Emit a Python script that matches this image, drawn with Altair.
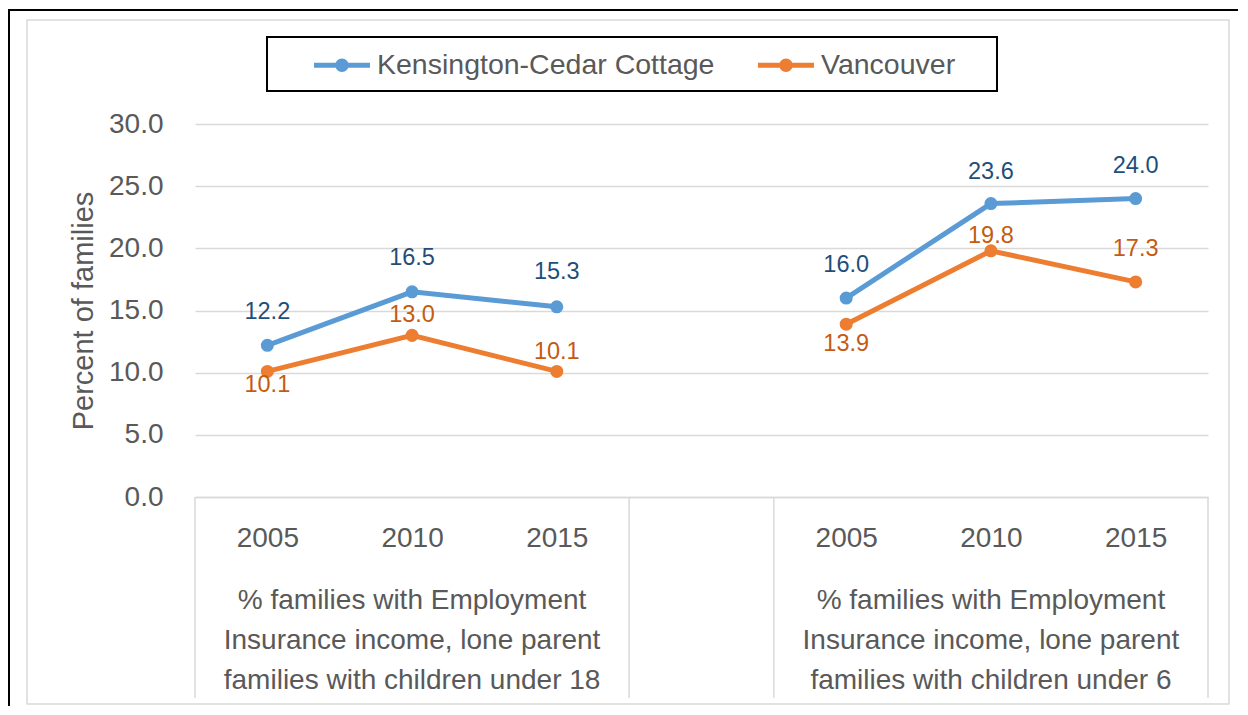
import altair as alt
import pandas as pd

FONT = "Liberation Sans"
TXT = "#595959"
GRID = "#d9d9d9"

# ---- data ----
years = ["2005", "2010", "2015"]
groups = [
    "% families with Employment\nInsurance income, lone parent\nfamilies with children under 18",
    "% families with Employment\nInsurance income, lone parent\nfamilies with children under 6",
]
series = ["Kensington-Cedar Cottage", "Vancouver"]
kcc = [12.2, 16.5, 15.3, 16.0, 23.6, 24.0]
van = [10.1, 13.0, 10.1, 13.9, 19.8, 17.3]
y_ticks = [0, 5, 10, 15, 20, 25, 30]

# label placement (pixels, negative = above the point)
kcc_label_dy = [-33, -34, -35, -33, -32, -33]
van_label_dy = [14, -20, -19, 20, -15, -33]

line_colors = ["#5b9bd5", "#ed7d31"]
label_colors = ["#1f4e79", "#c55a11"]

# ---- tables ----
n = len(years)
nslots = 2 * n + 1
W, H = 1013, 373

rows = []
for s_i, (name, vals, dys) in enumerate(
    [(series[0], kcc, kcc_label_dy), (series[1], van, van_label_dy)]
):
    for g in range(2):
        for i in range(n):
            k = g * n + i
            rows.append(
                {
                    "series": name,
                    "group": g,
                    "x": g * (n + 1) + i + 0.5,
                    "value": vals[k],
                    "dy": dys[k],
                }
            )
df = pd.DataFrame(rows)

sep_df = pd.DataFrame({"x": [0, n, n + 1, nslots]})
grp_df = pd.DataFrame({"x": [n / 2, n + 1 + n / 2], "label": groups})
one = pd.DataFrame({"a": [0]})

xscale = alt.Scale(domain=[0, nslots], nice=False, zero=False)
yscale = alt.Scale(domain=[0, 30], nice=False)

label_expr = "[" + ",".join(f"'{y}'" for y in years) + f"][floor(datum.value) % {n + 1}]"
x_axis = alt.Axis(
    values=[g * (n + 1) + i + 0.5 for g in range(2) for i in range(n)],
    labelExpr=label_expr,
    grid=False,
    ticks=False,
    domain=True,
    domainColor=GRID,
    domainWidth=1.5,
    labelFont=FONT,
    labelFontSize=28,
    labelColor=TXT,
    labelPadding=27,
    title=None,
)
y_axis = alt.Axis(
    values=y_ticks,
    format=".1f",
    grid=True,
    gridColor=GRID,
    gridWidth=1.5,
    domain=False,
    ticks=False,
    labelFont=FONT,
    labelFontSize=28,
    labelColor=TXT,
    labelPadding=32,
    title="Percent of families",
    titleFont=FONT,
    titleFontSize=29,
    titleFontWeight="normal",
    titleColor=TXT,
    titlePadding=10,
)

SYMBOL = (
    "M-1,-0.09L1,-0.09L1,0.09L-1,0.09Z"
    "M-0.24,0A0.24,0.24 0 1,1 0.24,0A0.24,0.24 0 1,1 -0.24,0Z"
)

legend = alt.Legend(
    orient="none",
    legendX=119,
    legendY=-87,
    direction="horizontal",
    title=None,
    symbolType=SYMBOL,
    symbolSize=3136,
    symbolStrokeWidth=0,
    labelFont=FONT,
    labelFontSize=28.5,
    labelColor=TXT,
    labelOffset=7,
    labelLimit=600,
    columnPadding=43,
    padding=0,
)

X = alt.X("x:Q", scale=xscale, axis=x_axis)
Y = alt.Y("value:Q", scale=yscale, axis=y_axis)

# decorations
outer = alt.Chart(one).mark_rect(fill="transparent", stroke="black", strokeWidth=2).encode(
    x=alt.value(-186), x2=alt.value(1070), y=alt.value(-114), y2=alt.value(640)
)
inner = alt.Chart(one).mark_rect(fill="transparent", stroke=GRID, strokeWidth=1.5).encode(
    x=alt.value(-168), x2=alt.value(1034), y=alt.value(-104), y2=alt.value(580)
)
legend_box = alt.Chart(one).mark_rect(fill="transparent", stroke="black", strokeWidth=2).encode(
    x=alt.value(72), x2=alt.value(802), y=alt.value(-87), y2=alt.value(-33)
)

seps = alt.Chart(sep_df).mark_rule(color=GRID, strokeWidth=1.5).encode(
    x=X,
    y=alt.value(H),
    y2=alt.value(H + 201),
)

lines = alt.Chart(df).mark_line(strokeWidth=5).encode(
    x=X,
    y=Y,
    color=alt.Color("series:N", scale=alt.Scale(domain=series, range=line_colors), legend=None),
    detail="group:N",
)

points = alt.Chart(df).mark_point(filled=True, size=170, opacity=1, strokeWidth=0).encode(
    x=X,
    y=Y,
    fill=alt.Fill("series:N", scale=alt.Scale(domain=series, range=line_colors), legend=legend),
)

labels = (
    alt.Chart(df)
    .transform_calculate(label_y=f"datum.value - datum.dy * 30 / {H}")
    .mark_text(font=FONT, fontSize=23.5, align="center", baseline="middle")
    .encode(
        x=X,
        y=alt.Y("label_y:Q", scale=yscale, axis=y_axis),
        text=alt.Text("value:Q", format=".1f"),
        color=alt.Color("series:N", scale=alt.Scale(domain=series, range=label_colors), legend=None),
    )
)

grp_labels = alt.Chart(grp_df).mark_text(
    font=FONT, fontSize=28, color=TXT, align="center", baseline="middle",
    lineBreak="\n", lineHeight=40,
).encode(
    x=X,
    y=alt.value(477),
    text="label:N",
)

chart = (
    alt.layer(outer, inner, legend_box, seps, lines, points, labels, grp_labels)
    .resolve_scale(color="independent")
    .properties(
        width=W,
        height=H,
        autosize=alt.AutoSizeParams(type="none"),
        padding={"left": 187, "top": 116, "right": 30, "bottom": 209},
        background="white",
    )
    .configure_view(stroke=None)
)

chart.save("out.html", embed_options={"renderer": "svg", "actions": False})
